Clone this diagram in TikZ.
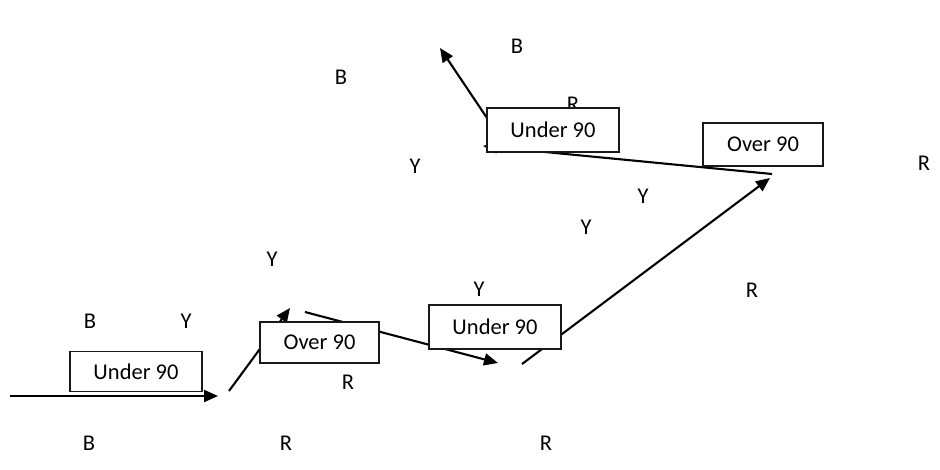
\documentclass[tikz,border=0pt]{standalone}
\usepackage{fontspec}
\setmainfont{Carlito}
\usetikzlibrary{arrows.meta}
\pgfdeclarelayer{bg}
\pgfsetlayers{bg,main}
\begin{document}
\begin{tikzpicture}[x=1pt,y=-1pt,
  box/.style={draw=black!90,line width=1.5pt,fill=white,inner sep=0pt,font=\fontsize{22.5}{26}\selectfont,text=black},
  lbl/.style={inner sep=0pt,font=\fontsize{22.5}{26}\selectfont,text=black},
  conn/.style={line width=2.1pt,black},
  arr/.style={conn,-{Triangle[length=14pt,width=12pt]}}]
\useasboundingbox (0,0) rectangle (940,470);
% labels
\node[lbl] (l1) at (90,321) {B};
\node[lbl] (l2) at (186,321) {Y};
\node[lbl] (l3) at (89,443) {B};
\node[lbl] (l4) at (286,443) {R};
\node[lbl] (l5) at (546,443) {R};
\node[lbl] (l6) at (272,259) {Y};
\node[lbl] (l7) at (348,382) {R};
\node[lbl] (l8) at (479,289) {Y};
\node[lbl] (l9) at (586,227) {Y};
\node[lbl] (l10) at (643,196) {Y};
\node[lbl] (l11) at (752,290) {R};
\node[lbl] (l12) at (415,166) {Y};
\node[lbl] (l13) at (341,77) {B};
\node[lbl] (l14) at (517,46) {B};
\node[lbl] (l15) at (573,104) {R};
\node[lbl] (l16) at (924,163) {R};
% boxes
\node[box,minimum width=132pt,minimum height=40pt] (b1) at (136,371.5) {Under 90};
\node[box,minimum width=119pt,minimum height=41pt] (b2) at (319.5,342.5) {Over 90};
\node[box,minimum width=132pt,minimum height=44pt] (b3) at (495,327) {Under 90};
\node[box,minimum width=132pt,minimum height=44pt] (b4) at (553,130) {Under 90};
\node[box,minimum width=120pt,minimum height=43pt] (b5) at (763,144.5) {Over 90};
% connector points
\coordinate (a0) at (10,396);
\coordinate (a1) at (218,396);
\coordinate (c0) at (229,391);
\coordinate (c1) at (290,308);
\coordinate (d0) at (305,312);
\coordinate (d1) at (498,363);
\coordinate (e0) at (522,364);
\coordinate (e1) at (770,178);
\coordinate (f0) at (772,174);
\coordinate (f1) at (483,146);
\coordinate (g0) at (487,118);
\coordinate (g1) at (440,48);
\begin{pgfonlayer}{bg}
\draw[arr] (a0) -- (a1);
\draw[arr] (c0) -- (c1);
\draw[arr] (d0) -- (d1);
\draw[arr] (e0) -- (e1);
\draw[arr] (f0) -- (f1);
\draw[arr] (g0) -- (g1);
\end{pgfonlayer}
\end{tikzpicture}
\end{document}
